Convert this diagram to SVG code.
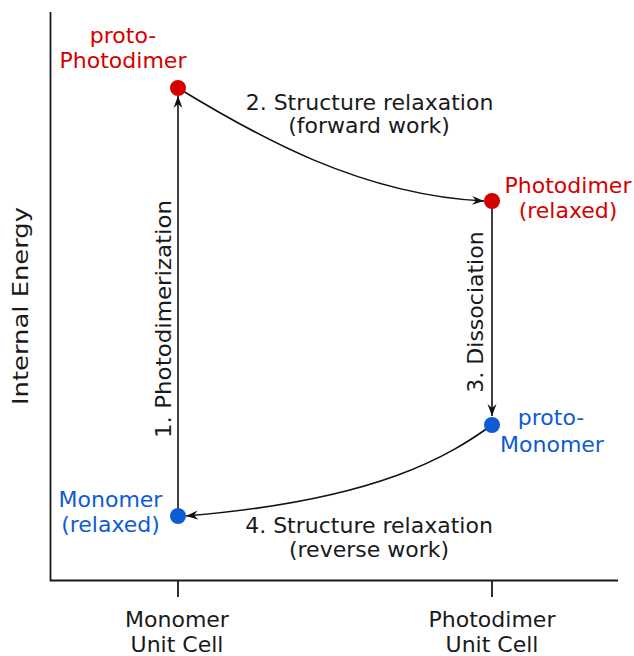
<svg xmlns="http://www.w3.org/2000/svg" width="634" height="656" viewBox="0 0 634 656">
<style>
text{font-family:"DejaVu Sans","Liberation Sans",sans-serif;font-size:22px;text-anchor:middle;fill:#1a1a1a}
.red{fill:#d40000}
.blue{fill:#0f5bd4}
.axis{stroke:#1a1a1a;stroke-width:1.8;fill:none}
.conn{stroke:#111;stroke-width:1.6;fill:none;marker-end:url(#arr)}
</style>
<defs>
<marker id="arr" viewBox="-12 -5 13 10" refX="0" refY="0" markerWidth="13" markerHeight="10" markerUnits="userSpaceOnUse" orient="auto">
<path d="M0,0 L-12,-4.5 L-8,0 L-12,4.5 Z" fill="#111"/>
</marker>
</defs>
<g id="axes">
<path class="axis" d="M50.5,12 V580.5 H618"/>
<path class="axis" d="M178,580 V597 M492,580 V597"/>
<text transform="translate(27.5,306) rotate(-90)" textLength="198" lengthAdjust="spacingAndGlyphs">Internal Energy</text>
<text x="177" y="627">Monomer</text>
<text x="177" y="652">Unit Cell</text>
<text x="492" y="627">Photodimer</text>
<text x="492" y="652">Unit Cell</text>
</g>
<g id="connectors">
<path class="conn" d="M178,516 V96"/>
<path class="conn" d="M178,88 C255,135 360,195 484,201"/>
<path class="conn" d="M492,201 V416"/>
<path class="conn" d="M492,425 C450,455 380,500 186,516"/>
<text transform="translate(171,319) rotate(-90)" textLength="238" lengthAdjust="spacingAndGlyphs">1. Photodimerization</text>
<text x="369.5" y="110">2. Structure relaxation</text>
<text x="369" y="133">(forward work)</text>
<text transform="translate(483,312) rotate(-90)">3. Dissociation</text>
<text x="369" y="532.5">4. Structure relaxation</text>
<text x="369" y="557">(reverse work)</text>
</g>
<g id="proto-photodimer">
<circle cx="178" cy="88" r="8" fill="#d40000"/>
<text class="red" x="123" y="43">proto-</text>
<text class="red" x="123" y="68">Photodimer</text>
</g>
<g id="photodimer-relaxed">
<circle cx="492" cy="201" r="8" fill="#d40000"/>
<text class="red" x="568" y="193">Photodimer</text>
<text class="red" x="568" y="218">(relaxed)</text>
</g>
<g id="proto-monomer">
<circle cx="492" cy="425" r="8" fill="#0f5bd4"/>
<text class="blue" x="551" y="425">proto-</text>
<text class="blue" x="552" y="452">Monomer</text>
</g>
<g id="monomer-relaxed">
<circle cx="178" cy="516" r="8" fill="#0f5bd4"/>
<text class="blue" x="110.5" y="507">Monomer</text>
<text class="blue" x="110.5" y="532">(relaxed)</text>
</g>
</svg>
